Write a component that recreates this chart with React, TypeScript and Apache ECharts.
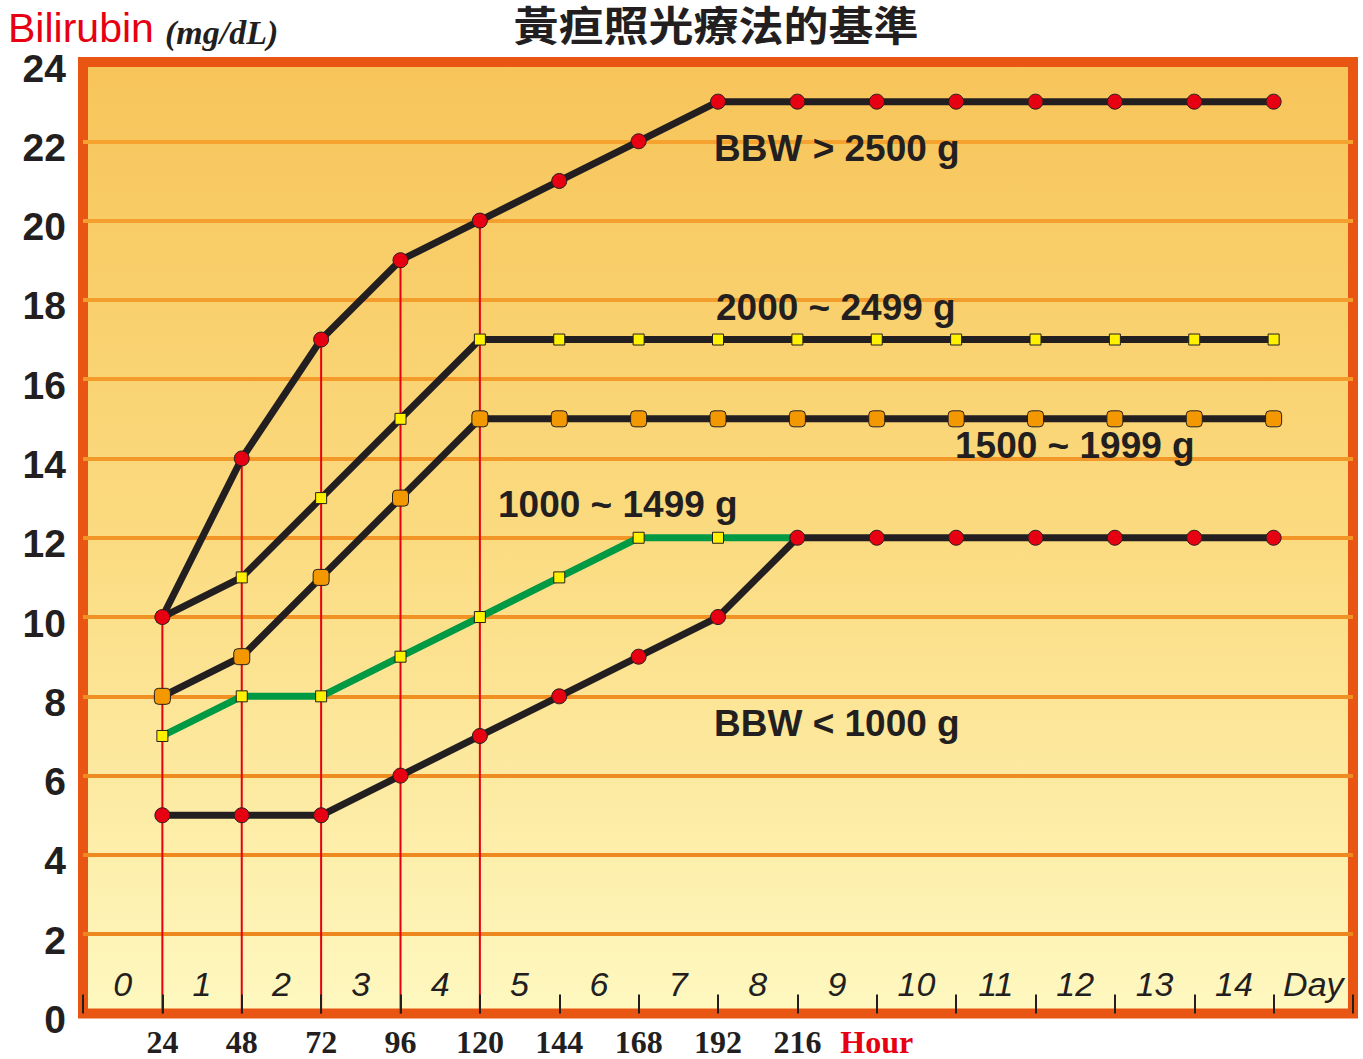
import React, { useEffect, useRef } from "react";
import * as echarts from "echarts";

// ---- data ----
const hours = [24, 48, 72, 96, 120, 144, 168, 192, 216, 240, 264, 288, 312, 336, 360];
const bbwOver2500 = [10, 14, 17, 19, 20, 21, 22, 23, 23, 23, 23, 23, 23, 23, 23];
const bbw2000to2499 = [10, 11, 13, 15, 17, 17, 17, 17, 17, 17, 17, 17, 17, 17, 17];
const bbw1500to1999 = [8, 9, 11, 13, 15, 15, 15, 15, 15, 15, 15, 15, 15, 15, 15];
const bbw1000to1499 = [7, 8, 8, 9, 10, 11, 12, 12, 12];
const bbwUnder1000 = [5, 5, 5, 6, 7, 8, 9, 10, 12, 12, 12, 12, 12, 12, 12];
const dayLabels = ["0", "1", "2", "3", "4", "5", "6", "7", "8", "9", "10", "11", "12", "13", "14", "Day"];
const hourTickLabels = ["24", "48", "72", "96", "120", "144", "168", "192", "216", "Hour"];
const verticalCount = 5;
const seriesNames = ["BBW > 2500 g", "2000 ~ 2499 g", "1500 ~ 1999 g", "1000 ~ 1499 g", "BBW < 1000 g"];

const INK = "#231F20";
const RED = "#E60012";

export default function App() {
  const ref = useRef<HTMLDivElement>(null);
  useEffect(() => {
    if (!ref.current) return;
    const chart = echarts.init(ref.current, null, { renderer: "svg" });

    const toPts = (vals: number[]) => vals.map((v, i) => [hours[i], v]);
    const lineStyle = { color: INK, width: 7 };
    const redSym = { color: RED, borderColor: INK, borderWidth: 1 };

    const verticals = hours.slice(0, verticalCount).map((h, i) => ({
      type: "line",
      data: [[h, 0], [h, bbwOver2500[i]]],
      symbol: "none",
      lineStyle: { color: RED, width: 2 },
      z: 1,
      silent: true,
    }));

    const splitColors = [
      "rgba(0,0,0,0)",
      "#EE861E", "#EF891F", "#EF8C21", "#F08F22", "#F19224", "#F29526",
      "#F29828", "#F39A2A", "#F39D2C", "#F49F2E", "#F5A22F",
    ];

    const seriesLabel = (x: number, y: number, text: string) => ({
      type: "text",
      x,
      y,
      style: {
        text,
        font: "bold 37px 'Liberation Sans', Arial, sans-serif",
        fill: INK,
        verticalAlign: "middle",
        align: "left",
      },
      z: 10,
    });

    chart.setOption({
      animation: false,
      grid: {
        left: 83,
        right: 10,
        top: 62,
        bottom: 45.5,
        show: true,
        borderWidth: 10,
        borderColor: "#E95513",
        backgroundColor: new echarts.graphic.LinearGradient(0, 0, 0, 1, [
          { offset: 0, color: "#F7C459" },
          { offset: 0.5, color: "#FBDB80" },
          { offset: 1, color: "#FEF8C0" },
        ]),
      },
      xAxis: [
        {
          type: "value",
          min: 0,
          max: 384,
          interval: 24,
          z: 5,
          axisLine: { show: false },
          axisTick: { show: true, inside: true, length: 19, lineStyle: { color: INK, width: 2 } },
          splitLine: { show: false },
          axisLabel: {
            margin: 12,
            showMinLabel: true,
            showMaxLabel: true,
            formatter: (v: number) => {
              const idx = v / 24 - 1;
              if (idx < 0 || idx >= hourTickLabels.length) return "";
              const t = hourTickLabels[idx];
              return t === "Hour" ? "{h|" + t + "}" : t;
            },
            color: INK,
            fontFamily: "'Liberation Serif', 'Times New Roman', serif",
            fontWeight: "bold",
            fontSize: 32,
            rich: {
              h: {
                color: RED,
                fontFamily: "'Liberation Serif', 'Times New Roman', serif",
                fontWeight: "bold",
                fontSize: 32,
              },
            },
          },
        },
        {
          type: "category",
          position: "bottom",
          data: dayLabels,
          boundaryGap: true,
          axisLine: { show: false },
          axisTick: { show: false },
          splitLine: { show: false },
          axisLabel: {
            inside: true,
            interval: 0,
            margin: 30,
            verticalAlign: "middle",
            color: INK,
            fontStyle: "italic",
            fontSize: 34,
            fontFamily: "'Liberation Sans', Arial, sans-serif",
          },
        },
      ],
      yAxis: {
        type: "value",
        min: 0,
        max: 24,
        interval: 2,
        axisLine: { show: false },
        axisTick: { show: false },
        splitLine: { show: true, lineStyle: { color: splitColors, width: 4 } },
        axisLabel: {
          margin: 17,
          verticalAlign: "top",
          lineHeight: 12,
          color: INK,
          fontWeight: "bold",
          fontSize: 39,
          fontFamily: "'Liberation Sans', Arial, sans-serif",
        },
      },
      series: [
        ...verticals,
        {
          name: seriesNames[3],
          type: "line",
          data: bbw1000to1499.map((v, i) =>
            i === bbw1000to1499.length - 1 ? { value: [hours[i], v], symbol: "none" } : [hours[i], v]
          ),
          lineStyle: { color: "#009944", width: 7 },
          symbol: "rect",
          symbolSize: 11,
          itemStyle: { color: "#FFF100", borderColor: INK, borderWidth: 1 },
          z: 2,
        },
        {
          name: seriesNames[4],
          type: "line",
          data: toPts(bbwUnder1000),
          lineStyle,
          symbol: "circle",
          symbolSize: 15,
          itemStyle: redSym,
          z: 3,
        },
        {
          name: seriesNames[2],
          type: "line",
          data: toPts(bbw1500to1999),
          lineStyle,
          symbol: "roundRect",
          symbolSize: 16,
          itemStyle: { color: "#F39800", borderColor: INK, borderWidth: 1 },
          z: 3,
        },
        {
          name: seriesNames[1],
          type: "line",
          data: toPts(bbw2000to2499),
          lineStyle,
          symbol: "rect",
          symbolSize: 11,
          itemStyle: { color: "#FFF100", borderColor: INK, borderWidth: 1 },
          z: 3,
        },
        {
          name: seriesNames[0],
          type: "line",
          data: toPts(bbwOver2500),
          lineStyle,
          symbol: "circle",
          symbolSize: 15,
          itemStyle: redSym,
          z: 4,
        },
      ],
      graphic: [
        {
          type: "text",
          x: 8,
          y: 28,
          style: {
            text: "Bilirubin",
            font: "41px 'Liberation Sans', Arial, sans-serif",
            fill: RED,
            verticalAlign: "middle",
          },
        },
        {
          type: "text",
          x: 165,
          y: 32,
          style: {
            text: "(mg/dL)",
            font: "italic bold 34px 'Liberation Serif', 'Times New Roman', serif",
            fill: INK,
            verticalAlign: "middle",
          },
        },
        {
          type: "text",
          x: 716,
          y: 23,
          scaleY: 0.9,
          style: {
            text: "黃疸照光療法的基準",
            font: "bold 45px 'Noto Sans CJK TC', 'Noto Sans CJK SC', sans-serif",
            fill: INK,
            align: "center",
            verticalAlign: "middle",
          },
        },
        seriesLabel(714, 148, seriesNames[0]),
        seriesLabel(716, 307, seriesNames[1]),
        seriesLabel(955, 445, seriesNames[2]),
        seriesLabel(498, 504, seriesNames[3]),
        seriesLabel(714, 723, seriesNames[4]),
      ],
    });
    return () => chart.dispose();
  }, []);

  return <div ref={ref} style={{ width: 1363, height: 1059, position: "absolute", left: 0, top: 0 }} />;
}
